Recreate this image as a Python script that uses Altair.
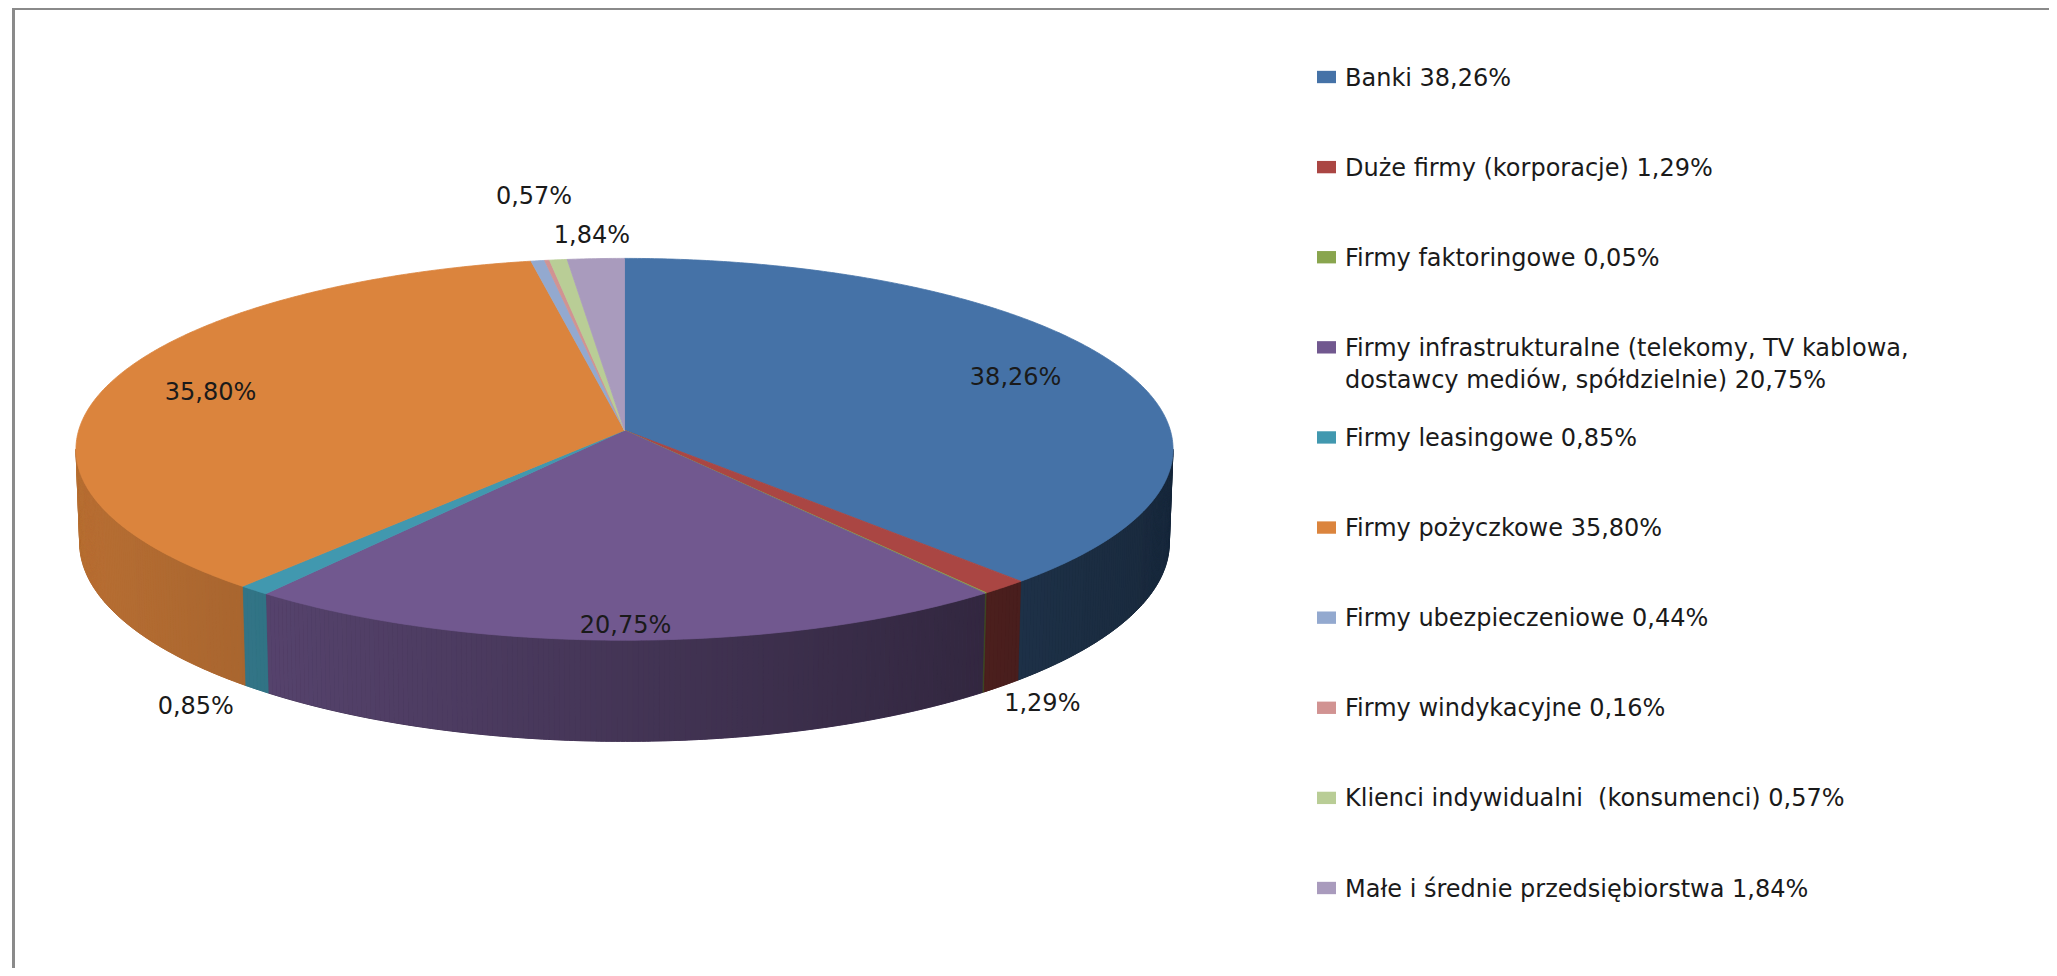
import math
import textwrap
import altair as alt
import pandas as pd

# ---------------- data ----------------
categories = [
    "Banki",
    "Duże firmy (korporacje)",
    "Firmy faktoringowe",
    "Firmy infrastrukturalne (telekomy, TV kablowa, dostawcy mediów, spółdzielnie)",
    "Firmy leasingowe",
    "Firmy pożyczkowe",
    "Firmy ubezpieczeniowe",
    "Firmy windykacyjne",
    "Klienci indywidualni  (konsumenci)",
    "Małe i średnie przedsiębiorstwa",
]
values = [38.26, 1.29, 0.05, 20.75, 0.85, 35.80, 0.44, 0.16, 0.57, 1.84]
colors = ["#4572A7", "#AA4643", "#89A54E", "#71588F", "#4198AF",
          "#DB843D", "#93A9CF", "#D19392", "#B9CD96", "#A99BBD"]
# data labels drawn on the pie: category index -> (radius factor, height level)
label_place = {0: (0.79, 0.0), 1: (1.10, -1.0), 3: (0.94, 0.0), 4: (1.15, -0.9),
               5: (0.80, 0.0), 8: (1.42, 0.0), 9: (1.15, 0.0)}

# ---------------- 3D perspective pie geometry ----------------
SIN_E, COS_E = 0.3463, 0.9381   # elevation
DIST = 9.43                     # camera distance (in radii)
FOCAL = 5147.0
THICK = 0.182                   # pie thickness (in radii)
APEX_X, APEX_Y = 624.5, 430.3   # page position of pie centre
W, H = 2041, 960
FONT = "DejaVu Sans"
FS = 24


def project(t_deg, r=1.0, level=0.0):
    t = math.radians(t_deg)
    X = r * math.sin(t)
    Z = r * math.cos(t)
    Y = level * THICK
    depth = DIST + Z * COS_E - Y * SIN_E
    return FOCAL * X / depth, FOCAL * (Y * COS_E + Z * SIN_E) / depth


def shade(hexc, f):
    r, g, b = (int(hexc[i:i + 2], 16) for i in (1, 3, 5))
    return "#%02x%02x%02x" % tuple(max(0, min(255, int(round(c * f)))) for c in (r, g, b))


def fmt(v):
    return ("%.2f" % v).replace(".", ",") + "%"


def side_factor(t):
    xm, _ = project(t)
    return 0.60 - 0.24 * (xm / 548.0)


total = sum(values)
bounds = [0.0]
for v in values:
    bounds.append(bounds[-1] + v / total * 360.0)

rows_top = []
for i in range(len(values)):
    t0, t1 = bounds[i], bounds[i + 1]
    n = max(2, int(math.ceil((t1 - t0) / 0.5)))
    pts = [(0.0, 0.0)] + [project(t0 + (t1 - t0) * k / n) for k in range(n + 1)] + [(0.0, 0.0)]
    for k, (x, y) in enumerate(pts):
        rows_top.append(dict(poly="top%d" % i, k=k, x=x, y=y, fill=colors[i]))

t_right = math.degrees(math.acos(-COS_E / DIST))
t_left = 360.0 - t_right

# underlay: one side wall polygon per visible slice (fills seams between strips)
rows_under = []
for i in range(len(values)):
    a, b = max(bounds[i], t_right), min(bounds[i + 1], t_left)
    if b - a <= 1e-6:
        continue
    n = max(2, int(math.ceil((b - a) / 0.5)))
    ts = [a + (b - a) * k / n for k in range(n + 1)]
    pts = [project(t) for t in ts] + [project(t, 1, -1) for t in reversed(ts)] + [project(a)]
    col = shade(colors[i], side_factor((a + b) / 2))
    for k, (x, y) in enumerate(pts):
        rows_under.append(dict(poly="under%d" % i, k=k, x=x, y=y, fill=col))

# gradient strips on the side wall
grid = [t_right + j * 0.5 for j in range(int((t_left - t_right) * 2) + 1)] + [t_left]
grid += [b for b in bounds if t_right < b < t_left]
grid = sorted(set(round(g, 6) for g in grid))
rows_side = []
sid = 0
for a, b in zip(grid[:-1], grid[1:]):
    if b - a < 1e-6:
        continue
    mid = (a + b) / 2
    idx = max(i for i in range(len(values)) if bounds[i] <= mid)
    col = shade(colors[idx], side_factor(mid))
    pts = [project(a), project(b), project(b, 1, -1), project(a, 1, -1), project(a)]
    for k, (x, y) in enumerate(pts):
        rows_side.append(dict(poly="side%d" % sid, k=k, x=x, y=y, fill=col))
    sid += 1

rows_lab = []
for i, (r, lev) in label_place.items():
    mid = (bounds[i] + bounds[i + 1]) / 2
    x, y = project(mid, r, lev)
    rows_lab.append(dict(x=x, y=y, text=fmt(values[i])))

rows_leg = []
for i, (c, v) in enumerate(zip(categories, values)):
    txt = "\n".join(textwrap.wrap(c + " " + fmt(v), 46)).replace("  ", " \u00a0")
    rows_leg.append(dict(row=i, text=txt, color=colors[i]))

df_top = pd.DataFrame(rows_top)
df_under = pd.DataFrame(rows_under)
df_side = pd.DataFrame(rows_side)
df_lab = pd.DataFrame(rows_lab)
df_leg = pd.DataFrame(rows_leg)

xs = alt.Scale(domain=[8 - APEX_X, 8 + W - APEX_X], nice=False, zero=False)
ys = alt.Scale(domain=[APEX_Y - 8 - H, APEX_Y - 8], nice=False, zero=False)
X = alt.X("x:Q", scale=xs, axis=None)
Y = alt.Y("y:Q", scale=ys, axis=None)


def polys(df, sw):
    return alt.Chart(df).mark_line(strokeWidth=sw, strokeJoin="round").encode(
        x=X, y=Y, detail="poly:N", order="k:Q",
        fill=alt.Fill("fill:N", scale=None), stroke=alt.Stroke("fill:N", scale=None))


under = polys(df_under, 1.0)
sides = polys(df_side, 0.3)
tops = polys(df_top, 0.8)

labels = alt.Chart(df_lab).mark_text(
    font=FONT, fontSize=FS, color="#1a1a1a", align="center", baseline="middle"
).encode(x=X, y=Y, text="text:N")

ly = alt.Y("row:Q", scale=alt.Scale(domain=[0, 9], range=[69, 880], nice=False, zero=False), axis=None)
leg_sq = alt.Chart(df_leg).mark_point(
    shape="M-1,-0.65L1,-0.65L1,0.65L-1,0.65Z", filled=True, size=361, opacity=1, strokeWidth=0
).encode(x=alt.value(1318.5), y=ly, fill=alt.Fill("color:N", scale=None))
leg_tx = alt.Chart(df_leg).mark_text(
    font=FONT, fontSize=FS, color="#1a1a1a", align="left", baseline="top",
    dy=-10.5, lineBreak="\n", lineHeight=32
).encode(x=alt.value(1337), y=ly, text="text:N")

one = pd.DataFrame({"a": [0]})
left_border = alt.Chart(one).mark_rule(color="#8a8a8a", strokeWidth=3).encode(
    x=alt.value(5.5), y=alt.value(0), y2=alt.value(H))
top_border = alt.Chart(one).mark_rule(color="#8a8a8a", strokeWidth=2).encode(
    x=alt.value(4), x2=alt.value(W), y=alt.value(1))

chart = alt.layer(under, sides, tops, labels, leg_sq, leg_tx, left_border, top_border).resolve_scale(
    y="independent"
).properties(
    width=W, height=H, padding=0, autosize=alt.AutoSizeParams(type="none"), background="white"
).configure_view(stroke=None)

chart.save("out.html", embed_options={"renderer": "svg", "actions": False})
